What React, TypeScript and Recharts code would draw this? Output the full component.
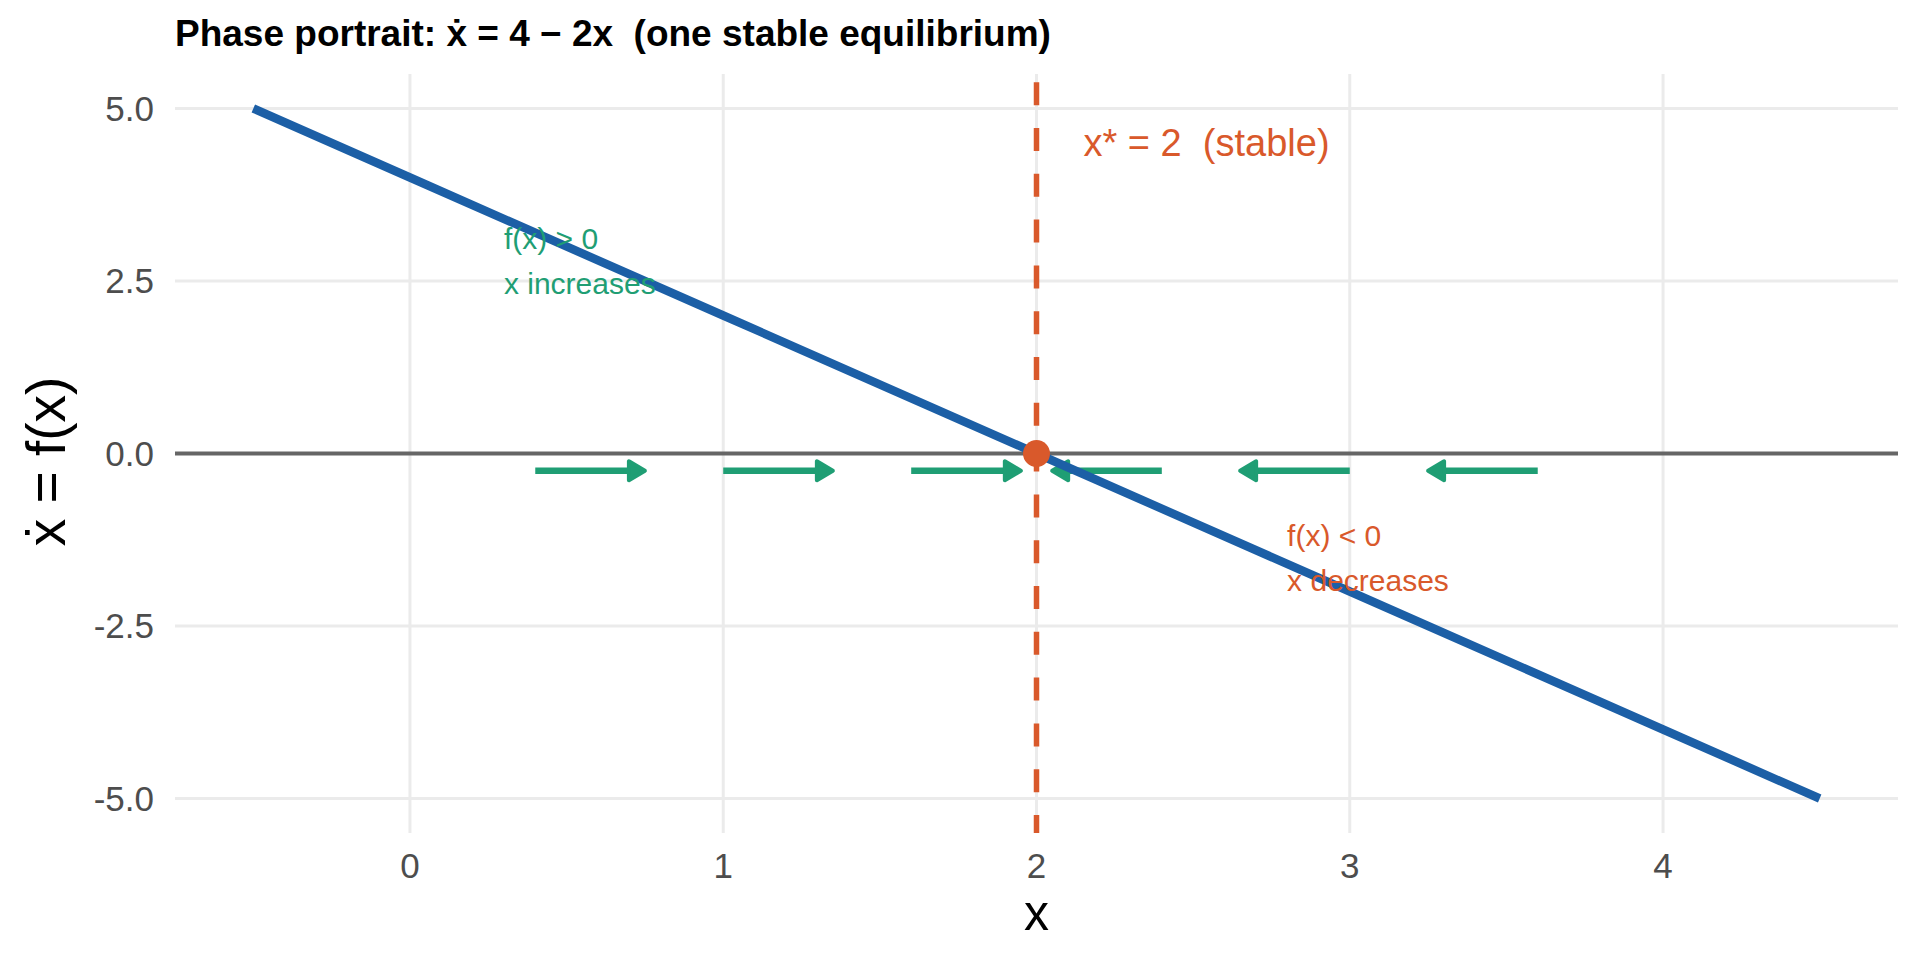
import React from "react";
import {
  ComposedChart,
  Line,
  XAxis,
  YAxis,
  CartesianGrid,
  ReferenceLine,
  ReferenceDot,
} from "recharts";

// f(x) = 4 - 2x
const lineX = [-0.5, 0, 1, 2, 3, 4, 4.5];
const lineY = [5, 4, 2, 0, -2, -4, -5];

const xTicks = [0, 1, 2, 3, 4];
const yTicks = [-5, -2.5, 0, 2.5, 5];

// flow arrows along the x axis
const arrowFrom = [0.4, 1.0, 1.6, 2.4, 3.0, 3.6];
const arrowTo = [0.75, 1.35, 1.95, 2.05, 2.65, 3.25];
const arrowY = -0.25;

const eqX = 2;
const eqY = 0;

const posNote = ["f(x) > 0", "x increases"];
const posNoteAt = [0.3, 2.8];
const negNote = ["f(x) < 0", "x decreases"];
const negNoteAt = [2.8, -1.5];
const eqNote = "x* = 2  (stable)";
const eqNoteAt = [2.15, 4.5];

const title = "Phase portrait: \u1E8B = 4 \u2212 2x  (one stable equilibrium)";

const BLUE = "#1c5fa6";
const RED = "#d9592b";
const GREEN = "#1f9e74";
const FONT = '"Liberation Sans", Arial, Helvetica, sans-serif';

const lineData = lineX.map((x, i) => ({ x, y: lineY[i] }));

const Arrow = (p: any) => {
  const { x1, y1, x2, y2 } = p;
  const dir = x2 > x1 ? 1 : -1;
  const hl = 16;
  const hw = 9.5;
  return (
    <g>
      <line x1={x1} y1={y1} x2={x2 - dir * 6} y2={y2} stroke={GREEN} strokeWidth={6.5} />
      <path
        d={`M${x2},${y2} L${x2 - dir * hl},${y2 - hw} L${x2 - dir * hl},${y2 + hw} Z`}
        fill={GREEN}
        stroke={GREEN}
        strokeWidth={4}
        strokeLinejoin="round"
      />
    </g>
  );
};

const note = (lines: string[], color: string) => (props: any) => {
  const { x, y } = props.viewBox;
  return (
    <text x={x} y={y} fill={color} fontSize={30} fontFamily={FONT} textAnchor="start">
      <tspan x={x} y={y - 22} dominantBaseline="central">{lines[0]}</tspan>
      <tspan x={x} y={y + 23} dominantBaseline="central">{lines[1]}</tspan>
    </text>
  );
};

export default function App() {
  return (
    <div style={{ position: "absolute", left: 0, top: 0, width: 1920, height: 960, background: "#fff" }}>
      <div
        style={{
          position: "absolute",
          left: 175,
          top: 11,
          fontFamily: FONT,
          fontWeight: "bold",
          fontSize: 37,
          lineHeight: "46px",
          whiteSpace: "pre",
          color: "#000",
        }}
      >
        {title}
      </div>
      <ComposedChart
        width={1920}
        height={960}
        margin={{ top: 74, right: 22, bottom: 0, left: 0 }}
        data={lineData}
      >
        <CartesianGrid stroke="#ebebeb" strokeWidth={3} syncWithTicks />
        <XAxis
          type="number"
          dataKey="x"
          domain={[-0.75, 4.75]}
          ticks={xTicks}
          allowDataOverflow
          height={127}
          axisLine={false}
          tickLine={false}
          tickSize={0}
          tickMargin={20}
          tick={{ fontSize: 35, fill: "#4d4d4d", fontFamily: FONT }}
          label={(props: any) => {
            const vb = props.viewBox;
            return (
              <text x={vb.x + vb.width / 2} y={vb.y + 97} textAnchor="middle" fontSize={50} fontFamily={FONT} fill="#000">
                x
              </text>
            );
          }}
        />
        <YAxis
          type="number"
          domain={[-5.5, 5.5]}
          ticks={yTicks}
          allowDataOverflow
          width={175}
          axisLine={false}
          tickLine={false}
          tickSize={0}
          tickMargin={21}
          tickFormatter={(v: number) => v.toFixed(1)}
          tick={{ fontSize: 35, fill: "#4d4d4d", fontFamily: FONT }}
          label={(props: any) => {
            const vb = props.viewBox;
            const cx = 46;
            const cy = vb.y + vb.height / 2 + 8;
            return (
              <text
                x={cx}
                y={cy}
                transform={`rotate(-90, ${cx}, ${cy})`}
                textAnchor="middle"
                dominantBaseline="central"
                fontSize={55}
                fontFamily={FONT}
                fill="#000"
              >
                {"\u1E8B = f(x)"}
              </text>
            );
          }}
        />
        <ReferenceLine y={0} stroke="#666666" strokeWidth={4} />
        <ReferenceLine
          x={eqX}
          stroke={RED}
          strokeWidth={5.5}
          strokeDasharray="23 22.8"
          strokeDashoffset={5}
        />
        <ReferenceDot
          x={posNoteAt[0]}
          y={posNoteAt[1]}
          r={0}
          stroke="none"
          fill="none"
          label={note(posNote, GREEN)}
        />
        {arrowFrom.map((a, i) => (
          <ReferenceLine
            key={i}
            segment={[
              { x: a, y: arrowY },
              { x: arrowTo[i], y: arrowY },
            ]}
            shape={Arrow}
          />
        ))}
        <Line
          type="linear"
          dataKey="y"
          stroke={BLUE}
          strokeWidth={8.5}
          dot={false}
          activeDot={false}
          isAnimationActive={false}
        />
        <ReferenceDot x={eqX} y={eqY} r={13.5} fill={RED} stroke="none" />
        <ReferenceDot
          x={negNoteAt[0]}
          y={negNoteAt[1]}
          r={0}
          stroke="none"
          fill="none"
          label={note(negNote, RED)}
        />
        <ReferenceDot
          x={eqNoteAt[0]}
          y={eqNoteAt[1]}
          r={0}
          stroke="none"
          fill="none"
          label={(props: any) => {
            const { x, y } = props.viewBox;
            return (
              <text
                x={x}
                y={y}
                fill={RED}
                fontSize={38}
                fontFamily={FONT}
                dominantBaseline="central"
                style={{ whiteSpace: "pre" }}
              >
                {eqNote}
              </text>
            );
          }}
        />
      </ComposedChart>
    </div>
  );
}
